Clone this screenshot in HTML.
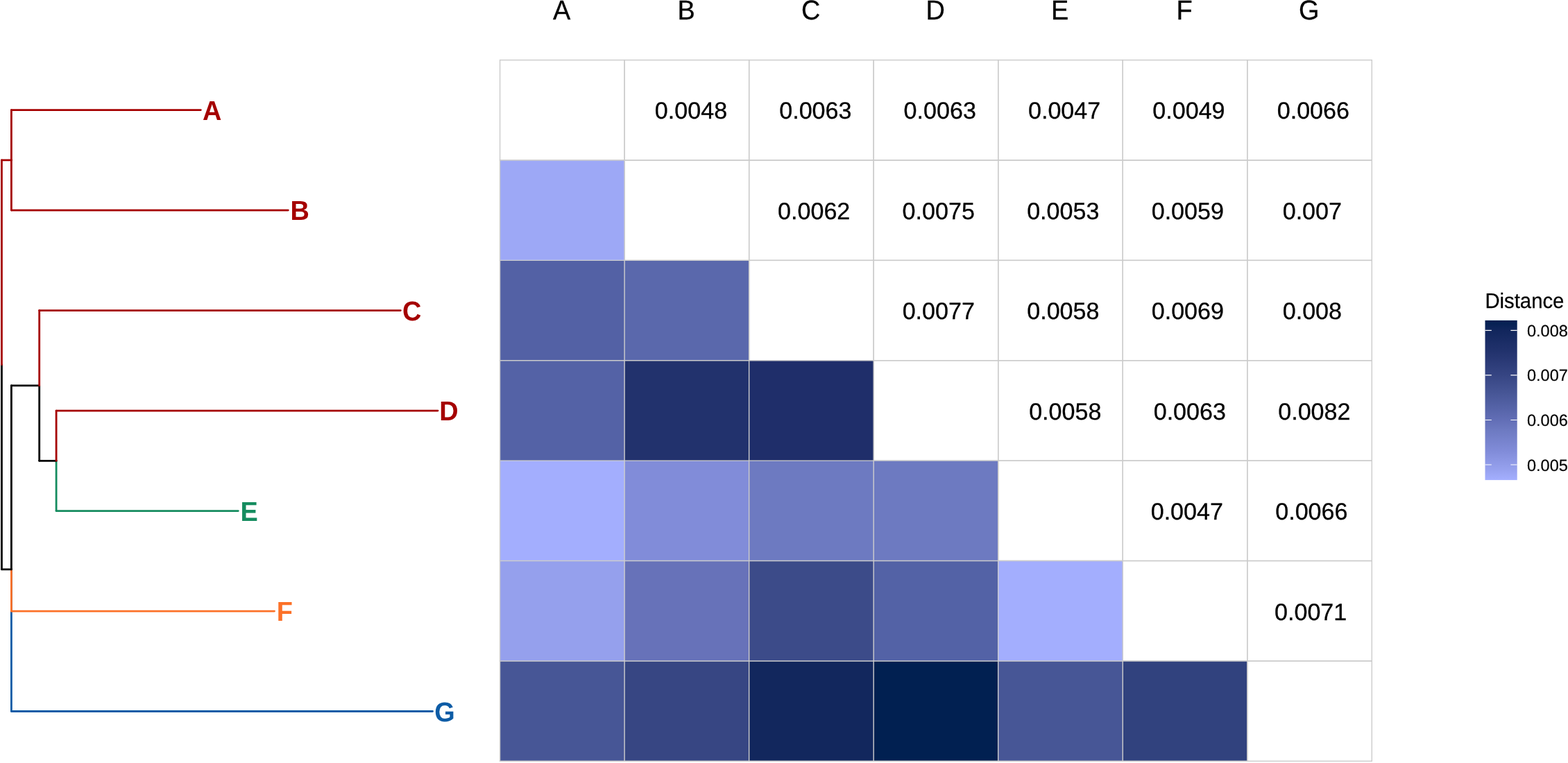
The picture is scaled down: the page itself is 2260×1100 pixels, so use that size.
<!DOCTYPE html>
<html lang="en"><head><meta charset="utf-8"><title>Distance heatmap with tree</title>
<style>html,body{margin:0;padding:0;background:#fff}body{width:2260px;height:1100px;overflow:hidden}svg{display:block}text{font-family:"Liberation Sans",Arial,Helvetica,sans-serif;text-rendering:geometricPrecision}.tip{font-weight:bold;font-size:37.9px}.col{font-size:37.9px;text-anchor:middle;fill:#000;stroke:#000;stroke-width:.3}.val{font-size:34.1px;text-anchor:middle;fill:#000;stroke:#000;stroke-width:.3}.lt{font-size:29.3px;fill:#000;stroke:#000;stroke-width:.25}.ll{font-size:23.5px;fill:#000;stroke:#000;stroke-width:.2}.br{fill:none;stroke-width:2.8;stroke-linecap:round;stroke-linejoin:round}</style></head><body>
<svg width="2260" height="1100" viewBox="0 0 2260 1100">
<rect x="0" y="0" width="2260" height="1100" fill="#FFFFFF"/>
<g>
<path class="br" stroke="#0D5CA6" d="M16.40 820.83L16.40 1025.52"/>
<path class="br" stroke="#0D5CA6" d="M16.40 1025.52L623.50 1025.52"/>
<path class="br" stroke="#FC7128" d="M16.40 820.83L16.40 881.03"/>
<path class="br" stroke="#FC7128" d="M16.40 881.03L395.50 881.03"/>
<path class="br" stroke="#158C5F" d="M81.10 664.29L81.10 736.54"/>
<path class="br" stroke="#158C5F" d="M81.10 736.54L343.30 736.54"/>
<path class="br" stroke="#000000" d="M2.45 525.83L2.45 820.83"/>
<path class="br" stroke="#000000" d="M2.45 820.83L16.40 820.83"/>
<path class="br" stroke="#000000" d="M16.40 820.83L16.40 555.93"/>
<path class="br" stroke="#000000" d="M16.40 555.93L56.70 555.93"/>
<path class="br" stroke="#000000" d="M56.70 555.93L56.70 664.29"/>
<path class="br" stroke="#000000" d="M56.70 664.29L81.10 664.29"/>
<path class="br" stroke="#A50000" d="M2.45 525.83L2.45 230.82"/>
<path class="br" stroke="#A50000" d="M2.45 230.82L16.40 230.82"/>
<path class="br" stroke="#A50000" d="M16.40 230.82L16.40 158.58"/>
<path class="br" stroke="#A50000" d="M16.40 158.58L289.30 158.58"/>
<path class="br" stroke="#A50000" d="M16.40 230.82L16.40 303.07"/>
<path class="br" stroke="#A50000" d="M16.40 303.07L415.30 303.07"/>
<path class="br" stroke="#A50000" d="M56.70 555.93L56.70 447.56"/>
<path class="br" stroke="#A50000" d="M56.70 447.56L577.30 447.56"/>
<path class="br" stroke="#A50000" d="M81.10 664.29L81.10 592.05"/>
<path class="br" stroke="#A50000" d="M81.10 592.05L631.00 592.05"/>
</g>
<g class="tip">
<text transform="translate(291.90 172.78) scale(1 1.040)" fill="#A50000">A</text>
<text transform="translate(418.60 317.27) scale(1 1.040)" fill="#A50000">B</text>
<text transform="translate(580.00 461.76) scale(1 1.040)" fill="#A50000">C</text>
<text transform="translate(633.30 606.25) scale(1 1.040)" fill="#A50000">D</text>
<text transform="translate(346.50 750.74) scale(1 1.040)" fill="#158C5F">E</text>
<text transform="translate(398.70 895.23) scale(1 1.040)" fill="#FC7128">F</text>
<text transform="translate(626.20 1039.72) scale(1 1.040)" fill="#0D5CA6">G</text>
</g>
<g stroke="#CCCCCC" stroke-width="1.42" fill="none">
<rect x="720.58" y="86.58" width="179.53" height="144.39"/>
<rect x="900.11" y="86.58" width="179.53" height="144.39"/>
<rect x="1079.64" y="86.58" width="179.53" height="144.39"/>
<rect x="1259.17" y="86.58" width="179.53" height="144.39"/>
<rect x="1438.70" y="86.58" width="179.53" height="144.39"/>
<rect x="1618.23" y="86.58" width="179.53" height="144.39"/>
<rect x="1797.76" y="86.58" width="179.53" height="144.39"/>
<rect x="900.11" y="230.97" width="179.53" height="144.39"/>
<rect x="1079.64" y="230.97" width="179.53" height="144.39"/>
<rect x="1259.17" y="230.97" width="179.53" height="144.39"/>
<rect x="1438.70" y="230.97" width="179.53" height="144.39"/>
<rect x="1618.23" y="230.97" width="179.53" height="144.39"/>
<rect x="1797.76" y="230.97" width="179.53" height="144.39"/>
<rect x="1079.64" y="375.36" width="179.53" height="144.39"/>
<rect x="1259.17" y="375.36" width="179.53" height="144.39"/>
<rect x="1438.70" y="375.36" width="179.53" height="144.39"/>
<rect x="1618.23" y="375.36" width="179.53" height="144.39"/>
<rect x="1797.76" y="375.36" width="179.53" height="144.39"/>
<rect x="1259.17" y="519.75" width="179.53" height="144.39"/>
<rect x="1438.70" y="519.75" width="179.53" height="144.39"/>
<rect x="1618.23" y="519.75" width="179.53" height="144.39"/>
<rect x="1797.76" y="519.75" width="179.53" height="144.39"/>
<rect x="1438.70" y="664.14" width="179.53" height="144.39"/>
<rect x="1618.23" y="664.14" width="179.53" height="144.39"/>
<rect x="1797.76" y="664.14" width="179.53" height="144.39"/>
<rect x="1618.23" y="808.53" width="179.53" height="144.39"/>
<rect x="1797.76" y="808.53" width="179.53" height="144.39"/>
<rect x="1797.76" y="952.92" width="179.53" height="144.39"/>
</g>
<g stroke="none">
<rect x="720.58" y="230.97" width="179.53" height="144.39" fill="#9DA8F6"/>
<rect x="720.58" y="375.36" width="179.53" height="144.39" fill="#5361A5"/>
<rect x="900.11" y="375.36" width="179.53" height="144.39" fill="#5A68AC"/>
<rect x="720.58" y="519.75" width="179.53" height="144.39" fill="#5462A6"/>
<rect x="900.11" y="519.75" width="179.53" height="144.39" fill="#22326D"/>
<rect x="1079.64" y="519.75" width="179.53" height="144.39" fill="#1F2E6A"/>
<rect x="720.58" y="664.14" width="179.53" height="144.39" fill="#A3AEFE"/>
<rect x="900.11" y="664.14" width="179.53" height="144.39" fill="#818CD9"/>
<rect x="1079.64" y="664.14" width="179.53" height="144.39" fill="#6D7AC1"/>
<rect x="1259.17" y="664.14" width="179.53" height="144.39" fill="#6D7AC1"/>
<rect x="720.58" y="808.53" width="179.53" height="144.39" fill="#95A0ED"/>
<rect x="900.11" y="808.53" width="179.53" height="144.39" fill="#6772B9"/>
<rect x="1079.64" y="808.53" width="179.53" height="144.39" fill="#3C4B89"/>
<rect x="1259.17" y="808.53" width="179.53" height="144.39" fill="#5362A6"/>
<rect x="1438.70" y="808.53" width="179.53" height="144.39" fill="#A3AEFE"/>
<rect x="720.58" y="952.92" width="179.53" height="144.39" fill="#475696"/>
<rect x="900.11" y="952.92" width="179.53" height="144.39" fill="#374683"/>
<rect x="1079.64" y="952.92" width="179.53" height="144.39" fill="#12275D"/>
<rect x="1259.17" y="952.92" width="179.53" height="144.39" fill="#012051"/>
<rect x="1438.70" y="952.92" width="179.53" height="144.39" fill="#475696"/>
<rect x="1618.23" y="952.92" width="179.53" height="144.39" fill="#31427E"/>
</g>
<g stroke="#CCCCCC" stroke-width="1.42" fill="none" stroke-linecap="square">
<path d="M720.58 230.97H900.11"/>
<path d="M720.58 375.36H1079.64"/>
<path d="M720.58 519.75H1259.17"/>
<path d="M720.58 664.14H1438.70"/>
<path d="M720.58 808.53H1618.23"/>
<path d="M720.58 952.92H1797.76"/>
<path d="M720.58 1097.31H1797.76"/>
<path d="M720.58 230.97V1097.31"/>
<path d="M900.11 230.97V1097.31"/>
<path d="M1079.64 375.36V1097.31"/>
<path d="M1259.17 519.75V1097.31"/>
<path d="M1438.70 664.14V1097.31"/>
<path d="M1618.23 808.53V1097.31"/>
<path d="M1797.76 952.92V1097.31"/>
</g>
<g class="val">
<text transform="translate(995.98 170.92) scale(1 1.000)">0.0048</text>
<text transform="translate(1175.34 170.92) scale(1 1.000)">0.0063</text>
<text transform="translate(1354.71 170.92) scale(1 1.000)">0.0063</text>
<text transform="translate(1534.09 170.92) scale(1 1.000)">0.0047</text>
<text transform="translate(1713.45 170.92) scale(1 1.000)">0.0049</text>
<text transform="translate(1892.83 170.92) scale(1 1.000)">0.0066</text>
<text transform="translate(1173.20 316.37) scale(1 1.000)">0.0062</text>
<text transform="translate(1352.73 316.37) scale(1 1.000)">0.0075</text>
<text transform="translate(1532.27 316.37) scale(1 1.000)">0.0053</text>
<text transform="translate(1711.79 316.37) scale(1 1.000)">0.0059</text>
<text transform="translate(1891.33 316.37) scale(1 1.000)">0.007</text>
<text transform="translate(1352.78 459.85) scale(1 1.000)">0.0077</text>
<text transform="translate(1532.32 459.85) scale(1 1.000)">0.0058</text>
<text transform="translate(1711.84 459.85) scale(1 1.000)">0.0069</text>
<text transform="translate(1891.38 459.85) scale(1 1.000)">0.008</text>
<text transform="translate(1535.27 605.09) scale(1 1.000)">0.0058</text>
<text transform="translate(1714.79 605.09) scale(1 1.000)">0.0063</text>
<text transform="translate(1894.33 605.09) scale(1 1.000)">0.0082</text>
<text transform="translate(1710.79 749.38) scale(1 1.000)">0.0047</text>
<text transform="translate(1890.33 749.38) scale(1 1.000)">0.0066</text>
<text transform="translate(1889.12 893.77) scale(1 1.000)">0.0071</text>
</g>
<g class="col">
<text transform="translate(809.55 27.90) scale(1 1.040)">A</text>
<text transform="translate(989.08 27.90) scale(1 1.040)">B</text>
<text transform="translate(1168.61 27.90) scale(1 1.040)">C</text>
<text transform="translate(1348.13 27.90) scale(1 1.040)">D</text>
<text transform="translate(1527.67 27.90) scale(1 1.040)">E</text>
<text transform="translate(1707.19 27.90) scale(1 1.040)">F</text>
<text transform="translate(1886.73 27.90) scale(1 1.040)">G</text>
</g>
<defs><linearGradient id="lg" x1="0" y1="1" x2="0" y2="0">
<stop offset="0.0000" stop-color="#A4AFFF"/>
<stop offset="0.0674" stop-color="#96A1EE"/>
<stop offset="0.1798" stop-color="#818CD9"/>
<stop offset="0.3202" stop-color="#6C79C0"/>
<stop offset="0.3764" stop-color="#626EB6"/>
<stop offset="0.4607" stop-color="#5462A6"/>
<stop offset="0.5449" stop-color="#475696"/>
<stop offset="0.6573" stop-color="#364583"/>
<stop offset="0.7978" stop-color="#23336E"/>
<stop offset="0.9382" stop-color="#11265C"/>
<stop offset="1.0000" stop-color="#021F50"/>
</linearGradient></defs>
<rect x="2140.50" y="461.90" width="46.20" height="230.20" fill="url(#lg)"/>
<g stroke="#FFFFFF" stroke-width="1.2" fill="none">
<path d="M2140.50 476.40H2149.80M2177.40 476.40H2186.70"/>
<path d="M2140.50 540.90H2149.80M2177.40 540.90H2186.70"/>
<path d="M2140.50 605.50H2149.80M2177.40 605.50H2186.70"/>
<path d="M2140.50 670.00H2149.80M2177.40 670.00H2186.70"/>
</g>
<text class="lt" transform="translate(2140.4 443.9) scale(1 1.040)">Distance</text>
<g class="ll">
<text transform="translate(2201 484.90) scale(1 1.000)">0.008</text>
<text transform="translate(2201 549.40) scale(1 1.000)">0.007</text>
<text transform="translate(2201 614.00) scale(1 1.000)">0.006</text>
<text transform="translate(2201 678.50) scale(1 1.000)">0.005</text>
</g>
</svg></body></html>
